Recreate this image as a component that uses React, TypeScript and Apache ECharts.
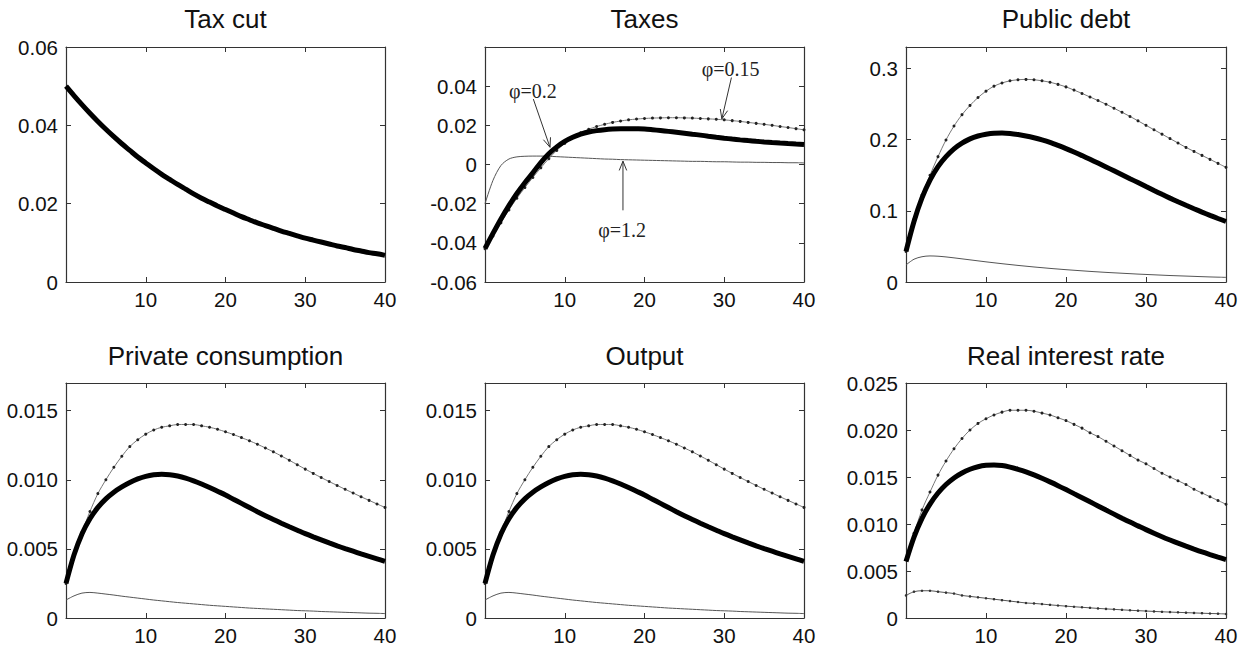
import React, { useEffect, useRef } from "react";
import * as echarts from "echarts";

const periods = Array.from({ length: 41 }, (_, i) => i);
const xTicks = [10, 20, 30, 40];

const panelTitles = ["Tax cut", "Taxes", "Public debt", "Private consumption", "Output", "Real interest rate"];

// Tax cut (all cases coincide)
const taxCut = [0.0500,0.0476,0.0453,0.0431,0.0410,0.0390,0.0371,0.0353,0.0336,0.0319,0.0304,0.0289,0.0275,0.0262,0.0249,0.0237,0.0225,0.0214,0.0204,0.0194,0.0185,0.0176,0.0167,0.0159,0.0151,0.0144,0.0137,0.0130,0.0124,0.0118,0.0112,0.0107,0.0102,0.0097,0.0092,0.0088,0.0083,0.0079,0.0075,0.0072,0.0068];

// Taxes
const taxesBase = [-0.0429,-0.0352,-0.0278,-0.0210,-0.0148,-0.0093,-0.0043,0.0010,0.0055,0.0090,0.0118,0.0139,0.0155,0.0166,0.0173,0.0178,0.01812,0.01828,0.0183,0.01822,0.0181,0.01775,0.01735,0.01692,0.01647,0.0160,0.0155,0.0150,0.01447,0.01395,0.01345,0.0130,0.01258,0.0122,0.01185,0.01152,0.01122,0.01094,0.01068,0.01043,0.0102];
const taxesLow = [-0.0430,-0.0365,-0.0298,-0.0232,-0.0172,-0.0118,-0.0066,-0.0017,0.0030,0.0072,0.0108,0.0138,0.0162,0.0180,0.0194,0.0205,0.0215,0.0222,0.0228,0.0232,0.0235,0.0237,0.0238,0.0239,0.0239,0.0238,0.0237,0.0235,0.0233,0.0231,0.0228,0.0224,0.0220,0.0215,0.0210,0.0205,0.0200,0.0194,0.0189,0.0183,0.0177];
const taxesHigh = [-0.0200,-0.0081,-0.0005,0.0028,0.0039,0.0042,0.0043,0.0043,0.0042,0.0040,0.0038,0.0036,0.0034,0.0032,0.0030,0.0028,0.0027,0.0025,0.0024,0.0023,0.0022,0.0021,0.0020,0.0019,0.0018,0.0017,0.0016,0.0016,0.0015,0.0014,0.0014,0.0013,0.0012,0.0012,0.0011,0.0011,0.0010,0.0010,0.0009,0.0009,0.0008];

// Public debt
const debtBase = [0.043,0.085,0.118,0.143,0.162,0.176,0.187,0.195,0.201,0.205,0.2075,0.209,0.2092,0.2085,0.207,0.205,0.2025,0.1995,0.196,0.1918,0.1873,0.1825,0.1775,0.1723,0.1670,0.1616,0.1561,0.1506,0.1451,0.1396,0.1340,0.1285,0.1231,0.1178,0.1127,0.1077,0.1029,0.0982,0.0936,0.0892,0.0850];
const debtLow = [0.043,0.088,0.122,0.150,0.176,0.1995,0.219,0.235,0.248,0.259,0.268,0.275,0.2795,0.2825,0.284,0.2845,0.284,0.2825,0.2805,0.2775,0.274,0.2695,0.2648,0.2598,0.2548,0.2497,0.2440,0.2383,0.2325,0.2263,0.2200,0.2138,0.2076,0.2014,0.1952,0.1890,0.1834,0.1778,0.1722,0.1666,0.1610];
const debtHigh = [0.024,0.032,0.0355,0.0366,0.0362,0.0352,0.0339,0.0325,0.0311,0.0297,0.0283,0.0270,0.0257,0.0245,0.0233,0.0222,0.0211,0.0201,0.0191,0.0182,0.0173,0.0165,0.0157,0.0149,0.0142,0.0135,0.0129,0.0123,0.0117,0.0111,0.0106,0.0101,0.0096,0.0091,0.0087,0.0083,0.0079,0.0075,0.0071,0.0068,0.0065];

// Private consumption
const consBase = [0.0025,0.00455,0.00608,0.00718,0.0080,0.00862,0.0091,0.00948,0.0098,0.01006,0.01025,0.01036,0.0104,0.01037,0.01027,0.01012,0.00992,0.00969,0.00944,0.00917,0.0089,0.00859,0.00829,0.00799,0.00769,0.0074,0.00713,0.00686,0.0066,0.00635,0.0061,0.00587,0.00565,0.00543,0.00522,0.00502,0.00483,0.00464,0.00446,0.00428,0.0041];
const consLow = [0.0025,0.0045,0.0062,0.0077,0.0090,0.0100,0.0109,0.0117,0.0124,0.0129,0.0133,0.0136,0.0138,0.0139,0.0140,0.0140,0.0140,0.0139,0.0138,0.01365,0.01347,0.01327,0.01305,0.01282,0.01257,0.0123,0.01202,0.01172,0.01141,0.01109,0.01077,0.01046,0.01016,0.00987,0.00959,0.00931,0.00904,0.00877,0.00851,0.00825,0.0080];
const consHigh = [0.0013,0.0016,0.0018,0.00185,0.0018,0.00173,0.00166,0.00158,0.00151,0.00144,0.00137,0.0013,0.00124,0.00118,0.00112,0.00107,0.00102,0.00097,0.00092,0.00088,0.00084,0.0008,0.00076,0.00072,0.00069,0.00066,0.00063,0.0006,0.00057,0.00054,0.00052,0.0005,0.00047,0.00045,0.00043,0.00041,0.00039,0.00037,0.00035,0.00034,0.00032];

// Output
const outputBase = [0.0025,0.00455,0.00608,0.00718,0.0080,0.00862,0.0091,0.00948,0.0098,0.01006,0.01025,0.01036,0.0104,0.01037,0.01027,0.01012,0.00992,0.00969,0.00944,0.00917,0.0089,0.00859,0.00829,0.00799,0.00769,0.0074,0.00713,0.00686,0.0066,0.00635,0.0061,0.00587,0.00565,0.00543,0.00522,0.00502,0.00483,0.00464,0.00446,0.00428,0.0041];
const outputLow = [0.0025,0.0045,0.0062,0.0077,0.0090,0.0100,0.0109,0.0117,0.0124,0.0129,0.0133,0.0136,0.0138,0.0139,0.0140,0.0140,0.0140,0.0139,0.0138,0.01365,0.01347,0.01327,0.01305,0.01282,0.01257,0.0123,0.01202,0.01172,0.01141,0.01109,0.01077,0.01046,0.01016,0.00987,0.00959,0.00931,0.00904,0.00877,0.00851,0.00825,0.0080];
const outputHigh = [0.0013,0.0016,0.0018,0.00185,0.0018,0.00173,0.00166,0.00158,0.00151,0.00144,0.00137,0.0013,0.00124,0.00118,0.00112,0.00107,0.00102,0.00097,0.00092,0.00088,0.00084,0.0008,0.00076,0.00072,0.00069,0.00066,0.00063,0.0006,0.00057,0.00054,0.00052,0.0005,0.00047,0.00045,0.00043,0.00041,0.00039,0.00037,0.00035,0.00034,0.00032];

// Real interest rate
const rateBase = [0.0060,0.0086,0.0106,0.01212,0.0133,0.0142,0.0149,0.01543,0.01582,0.01609,0.01624,0.01628,0.01622,0.01605,0.01582,0.01555,0.01522,0.01486,0.01448,0.01408,0.01366,0.01323,0.0128,0.01236,0.01192,0.01148,0.01105,0.01062,0.0102,0.0098,0.0094,0.00902,0.00865,0.0083,0.00796,0.00764,0.00733,0.00703,0.00675,0.00648,0.00622];
const rateLow = [0.0062,0.0090,0.0115,0.0134,0.0152,0.0167,0.0180,0.0191,0.0200,0.0207,0.0212,0.0216,0.0219,0.0221,0.0221,0.0221,0.0220,0.0218,0.0216,0.0213,0.0210,0.0206,0.0202,0.0197,0.0193,0.0188,0.0183,0.0178,0.0173,0.0168,0.0164,0.0159,0.0154,0.0150,0.0146,0.0142,0.0137,0.0133,0.0129,0.0125,0.0121];
const rateHigh = [0.0024,0.0028,0.0029,0.0029,0.0028,0.0027,0.0026,0.0024,0.0023,0.0022,0.0021,0.0020,0.0019,0.0018,0.0017,0.0016,0.00155,0.00148,0.0014,0.00133,0.00126,0.0012,0.00114,0.00108,0.00102,0.00097,0.00092,0.00087,0.00082,0.00078,0.00074,0.0007,0.00066,0.00063,0.0006,0.00057,0.00054,0.00051,0.00048,0.00046,0.00043];

// y axis ranges
const yMins = [0, -0.06, 0, 0, 0, 0];
const yMaxs = [0.06, 0.06, 0.33, 0.017, 0.017, 0.025];
const yIntervals = [0.02, 0.02, 0.1, 0.005, 0.005, 0.005];
const yDecimals = [2, 2, 1, 3, 3, 3];
const yShowMax = [true, false, false, false, false, true];

// Annotations on the Taxes panel (data coordinates)
const annoTexts = ["φ=0.15", "φ=0.2", "φ=1.2"];
const annoTextPos = [[30.8, 0.0489], [6.0, 0.0377], [17.2, -0.0336]];
const annoArrowFrom = [[30.9, 0.0444], [6.06, 0.0334], [17.3, -0.0234]];
const annoArrowTo = [[29.7, 0.0233], [8.15, 0.0088], [17.3, 0.0017]];

const gridLefts = [66, 485, 906];
const gridWidths = [319, 319, 320];
const gridTops = [47, 383];
const gridHeight = 235;
const titleYs = [19, 356];

const FONT = '"Liberation Sans", Arial, sans-serif';
const TEXT_COLOR = "#111";
const FRAME = "#333";
const TICK_FONT = 20.5;
const TITLE_FONT = 26;

function pairs(vals: number[]) {
  return periods.map((t, i) => [t, vals[i]]);
}

export default function App() {
  const ref = useRef<HTMLDivElement>(null);

  useEffect(() => {
    if (!ref.current) return;
    const chart = echarts.init(ref.current, null, { renderer: "svg" });

    const grids: any[] = [];
    const xAxes: any[] = [];
    const yAxes: any[] = [];
    for (let p = 0; p < 6; p++) {
      const col = p % 3;
      const row = Math.floor(p / 3);
      grids.push({
        left: gridLefts[col],
        top: gridTops[row],
        width: gridWidths[col],
        height: gridHeight,
        containLabel: false,
      });
      const baseX = {
        type: "value",
        gridIndex: p,
        min: 0,
        max: 40,
        interval: 10,
        splitLine: { show: false },
        axisLine: { show: true, onZero: false, lineStyle: { color: FRAME, width: 1.2 } },
        axisTick: { show: true, inside: true, length: 5, lineStyle: { color: FRAME } },
      };
      xAxes.push({
        ...baseX,
        position: "bottom",
        axisLabel: {
          show: true,
          margin: 7,
          fontSize: TICK_FONT,
          fontFamily: FONT,
          color: TEXT_COLOR,
          formatter: (v: number) => (xTicks.includes(v) ? String(v) : ""),
        },
      });
      xAxes.push({ ...baseX, position: "top", axisLabel: { show: false } });
      const dec = yDecimals[p];
      const baseY = {
        type: "value",
        gridIndex: p,
        min: yMins[p],
        max: yMaxs[p],
        interval: yIntervals[p],
        splitLine: { show: false },
        axisLine: { show: true, onZero: false, lineStyle: { color: FRAME, width: 1.2 } },
        axisTick: { show: true, inside: true, length: 5, lineStyle: { color: FRAME } },
      };
      yAxes.push({
        ...baseY,
        position: "left",
        axisLabel: {
          show: true,
          margin: 8,
          fontSize: TICK_FONT,
          fontFamily: FONT,
          color: TEXT_COLOR,
          showMaxLabel: yShowMax[p],
          formatter: (v: number) => (Math.abs(v) < 1e-12 ? "0" : v.toFixed(dec)),
        },
      });
      yAxes.push({ ...baseY, position: "right", axisLabel: { show: false } });
    }

    const thick = (p: number, vals: number[]) => ({
      type: "line",
      xAxisIndex: p * 2,
      yAxisIndex: p * 2,
      data: pairs(vals),
      showSymbol: false,
      symbol: "none",
      smooth: 0.3,
      lineStyle: { color: "#000", width: 5 },
      z: 5,
      silent: true,
    });
    const dotted = (p: number, vals: number[]) => ({
      type: "line",
      xAxisIndex: p * 2,
      yAxisIndex: p * 2,
      data: pairs(vals),
      showSymbol: true,
      symbol: "circle",
      symbolSize: 3,
      smooth: 0.3,
      itemStyle: { color: "#222" },
      lineStyle: { color: "#777", width: 1 },
      z: 3,
      silent: true,
    });
    const thin = (p: number, vals: number[], marks = false) => ({
      type: "line",
      xAxisIndex: p * 2,
      yAxisIndex: p * 2,
      data: pairs(vals),
      showSymbol: marks,
      symbol: marks ? "circle" : "none",
      symbolSize: 2.5,
      smooth: 0.3,
      itemStyle: { color: "#333" },
      lineStyle: { color: "#555", width: 1 },
      z: 2,
      silent: true,
    });

    const series: any[] = [
      thick(0, taxCut),
      thin(1, taxesHigh), dotted(1, taxesLow), thick(1, taxesBase),
      thin(2, debtHigh), dotted(2, debtLow), thick(2, debtBase),
      thin(3, consHigh), dotted(3, consLow), thick(3, consBase),
      thin(4, outputHigh), dotted(4, outputLow), thick(4, outputBase),
      thin(5, rateHigh, true), dotted(5, rateLow), thick(5, rateBase),
    ];

    chart.setOption({
      animation: false,
      backgroundColor: "#fff",
      grid: grids,
      xAxis: xAxes,
      yAxis: yAxes,
      series,
    });

    const graphics: any[] = [];
    for (let p = 0; p < 6; p++) {
      const col = p % 3;
      const row = Math.floor(p / 3);
      graphics.push({
        type: "text",
        x: gridLefts[col] + gridWidths[col] / 2,
        y: titleYs[row],
        silent: true,
        style: {
          text: panelTitles[p],
          font: `${TITLE_FONT}px ${FONT}`,
          fill: TEXT_COLOR,
          textAlign: "center",
          textVerticalAlign: "middle",
          align: "center",
          verticalAlign: "middle",
        },
      });
    }
    const toPx = (pt: number[]) => chart.convertToPixel({ xAxisIndex: 2, yAxisIndex: 2 } as any, pt) as number[];
    for (let i = 0; i < annoTexts.length; i++) {
      const tp = toPx(annoTextPos[i]);
      graphics.push({
        type: "text",
        x: tp[0],
        y: tp[1],
        silent: true,
        style: {
          text: annoTexts[i],
          font: '20px "Liberation Serif", "Times New Roman", serif',
          fill: "#222",
          textAlign: "center",
          textVerticalAlign: "middle",
          align: "center",
          verticalAlign: "middle",
        },
      });
      const a = toPx(annoArrowFrom[i]);
      const b = toPx(annoArrowTo[i]);
      graphics.push({
        type: "line",
        silent: true,
        shape: { x1: a[0], y1: a[1], x2: b[0], y2: b[1] },
        style: { stroke: "#333", lineWidth: 1 },
        z: 10,
      });
      const dx = b[0] - a[0];
      const dy = b[1] - a[1];
      const len = Math.sqrt(dx * dx + dy * dy) || 1;
      const ux = dx / len;
      const uy = dy / len;
      const L = 10;
      const ang = (22 * Math.PI) / 180;
      const rot = (s: number) => [
        b[0] - L * (ux * Math.cos(s * ang) - uy * Math.sin(s * ang)),
        b[1] - L * (ux * Math.sin(s * ang) + uy * Math.cos(s * ang)),
      ];
      graphics.push({
        type: "polyline",
        silent: true,
        shape: { points: [rot(1), [b[0], b[1]], rot(-1)] },
        style: { stroke: "#333", lineWidth: 1, fill: "none" },
        z: 10,
      });
    }
    chart.setOption({ graphic: graphics });

    return () => chart.dispose();
  }, []);

  return (
    <div
      ref={ref}
      style={{ position: "fixed", left: 0, top: 0, width: 1247, height: 650, background: "#fff" }}
    />
  );
}
